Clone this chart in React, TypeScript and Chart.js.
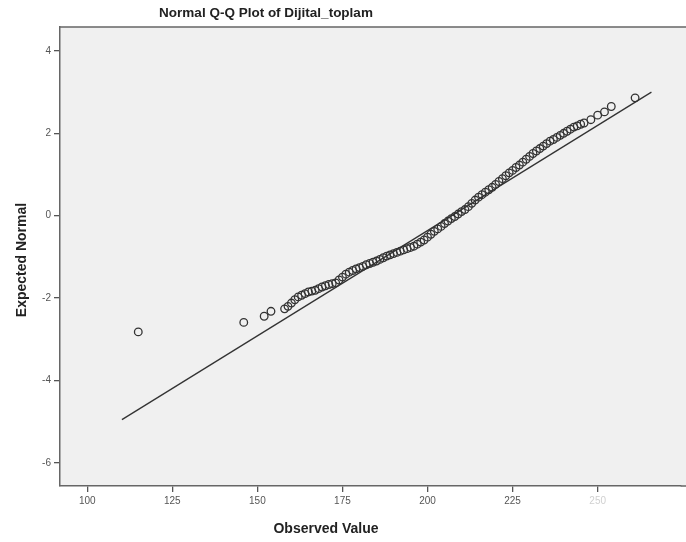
import React, { useEffect, useRef } from "react";
import { Chart, registerables } from "chart.js";

Chart.register(...registerables);

// Observed values (integer scores) and their expected normal quantiles
const observedValues = [
  115, 146, 152, 154, 158, 159, 160, 161, 162, 163, 164, 165, 166, 167, 168, 169,
  170, 171, 172, 173, 174, 175, 176, 177, 178, 179, 180, 181, 182, 183, 184, 185,
  186, 187, 188, 189, 190, 191, 192, 193, 194, 195, 196, 197, 198, 199, 200, 201,
  202, 203, 204, 205, 206, 207, 208, 209, 210, 211, 212, 213, 214, 215, 216, 217,
  218, 219, 220, 221, 222, 223, 224, 225, 226, 227, 228, 229, 230, 231, 232, 233,
  234, 235, 236, 237, 238, 239, 240, 241, 242, 243, 244, 245, 246, 248, 250, 252,
  254, 261,
];
const expectedNormal = [
  -2.82, -2.59, -2.44, -2.32, -2.26, -2.2, -2.12, -2.04, -1.97, -1.93, -1.89, -1.85, -1.83, -1.81, -1.77, -1.73,
  -1.7, -1.67, -1.65, -1.63, -1.56, -1.49, -1.42, -1.37, -1.33, -1.29, -1.26, -1.23, -1.19, -1.16, -1.13, -1.1,
  -1.06, -1.02, -0.98, -0.95, -0.92, -0.89, -0.86, -0.83, -0.8, -0.77, -0.74, -0.69, -0.64, -0.59, -0.52, -0.45,
  -0.38, -0.32, -0.26, -0.19, -0.13, -0.07, -0.02, 0.04, 0.1, 0.15, 0.22, 0.3, 0.38, 0.45, 0.51, 0.57,
  0.63, 0.69, 0.76, 0.83, 0.9, 0.97, 1.04, 1.1, 1.17, 1.23, 1.3, 1.37, 1.44, 1.51, 1.57, 1.63,
  1.69, 1.75, 1.81, 1.85, 1.9, 1.95, 2.0, 2.05, 2.1, 2.15, 2.18, 2.22, 2.25, 2.33, 2.44, 2.52,
  2.65, 2.86,
];

// Reference line end points
const refLineX = [110.2, 265.8];
const refLineY = [-4.95, 3.0];

const xTicks = [100, 125, 150, 175, 200, 225, 250];
const yTicks = [-6, -4, -2, 0, 2, 4];

const titleText = "Normal Q-Q Plot of Dijital_toplam";
const xTitle = "Observed Value";
const yTitle = "Expected Normal";

export default function App() {
  const canvasRef = useRef<HTMLCanvasElement | null>(null);

  useEffect(() => {
    const canvas = canvasRef.current;
    if (!canvas) return;

    const decor = {
      id: "decor",
      beforeDraw(chart: any) {
        const { ctx, chartArea } = chart;
        ctx.save();
        ctx.fillStyle = "#ffffff";
        ctx.fillRect(0, 0, chart.width, chart.height);
        ctx.fillStyle = "#f0f0f0";
        ctx.fillRect(chartArea.left, chartArea.top, chart.width - chartArea.left, chartArea.bottom - chartArea.top);
        ctx.strokeStyle = "#666666";
        ctx.lineWidth = 1.5;
        ctx.beginPath();
        ctx.moveTo(chartArea.left, chartArea.top);
        ctx.lineTo(chart.width, chartArea.top);
        ctx.moveTo(chartArea.right, chartArea.bottom);
        ctx.lineTo(chart.width, chartArea.bottom);
        ctx.stroke();
        ctx.restore();
      },
      afterDraw(chart: any) {
        const { ctx } = chart;
        ctx.save();
        ctx.fillStyle = "#222222";
        ctx.textAlign = "center";
        ctx.textBaseline = "middle";
        ctx.font = "bold 13.5px 'Liberation Sans', Arial, sans-serif";
        ctx.fillText(titleText, 266, 13, 214);
        ctx.font = "bold 14px 'Liberation Sans', Arial, sans-serif";
        ctx.fillText(xTitle, 326, 529, 106);
        ctx.translate(22, 260);
        ctx.rotate(-Math.PI / 2);
        ctx.fillText(yTitle, 0, 0, 126);
        ctx.restore();
      },
    };

    const points = observedValues.map((x, i) => ({ x, y: expectedNormal[i] }));
    const linePts = refLineX.map((x, i) => ({ x, y: refLineY[i] }));

    const chart = new Chart(canvas, {
      type: "scatter",
      data: {
        datasets: [
          {
            data: points,
            showLine: false,
            pointStyle: "circle",
            pointRadius: 3.8,
            pointBorderWidth: 1.3,
            borderColor: "#333333",
            backgroundColor: "rgba(0,0,0,0)",
            order: 1,
          },
          {
            data: linePts,
            showLine: true,
            pointRadius: 0,
            borderColor: "#333333",
            borderWidth: 1.3,
            order: 2,
          },
        ],
      },
      options: {
        responsive: false,
        animation: false,
        devicePixelRatio: 1,
        layout: { padding: { top: 27, left: 0, right: 0, bottom: 0 } },
        plugins: {
          legend: { display: false },
          tooltip: { enabled: false },
          title: { display: false },
        },
        scales: {
          x: {
            type: "linear",
            min: 92,
            max: 274.4,
            afterBuildTicks: (scale: any) => {
              scale.ticks = xTicks.map((v) => ({ value: v }));
            },
            afterFit: (scale: any) => {
              scale.height = 56;
            },
            grid: {
              drawOnChartArea: false,
              drawTicks: true,
              tickLength: 6,
              color: "#555555",
              lineWidth: 1.3,
            },
            border: { display: true, color: "#666666", width: 1.5 },
            ticks: {
              autoSkip: false,
              maxRotation: 0,
              padding: 3,
              font: { family: "'Liberation Sans', Arial, sans-serif", size: 10 },
              color: (c: any) => (c.tick && c.tick.value === 250 ? "#d0d0d0" : "#555555"),
              callback: (v: any) => String(v),
            },
          },
          y: {
            type: "linear",
            min: -6.56,
            max: 4.58,
            afterBuildTicks: (scale: any) => {
              scale.ticks = yTicks.map((v) => ({ value: v }));
            },
            afterFit: (scale: any) => {
              scale.width = 60;
            },
            grid: {
              drawOnChartArea: false,
              drawTicks: true,
              tickLength: 6,
              color: "#555555",
              lineWidth: 1.3,
            },
            border: { display: true, color: "#666666", width: 1.5 },
            ticks: {
              autoSkip: false,
              padding: 3,
              font: { family: "'Liberation Sans', Arial, sans-serif", size: 10 },
              color: "#555555",
              callback: (v: any) => String(v),
            },
          },
        },
      },
      plugins: [decor],
    });

    return () => chart.destroy();
  }, []);

  return (
    <div style={{ position: "fixed", left: 0, top: 0, width: 686, height: 542, background: "#ffffff" }}>
      <canvas ref={canvasRef} width={686} height={542} style={{ width: 686, height: 542, display: "block" }} />
    </div>
  );
}
